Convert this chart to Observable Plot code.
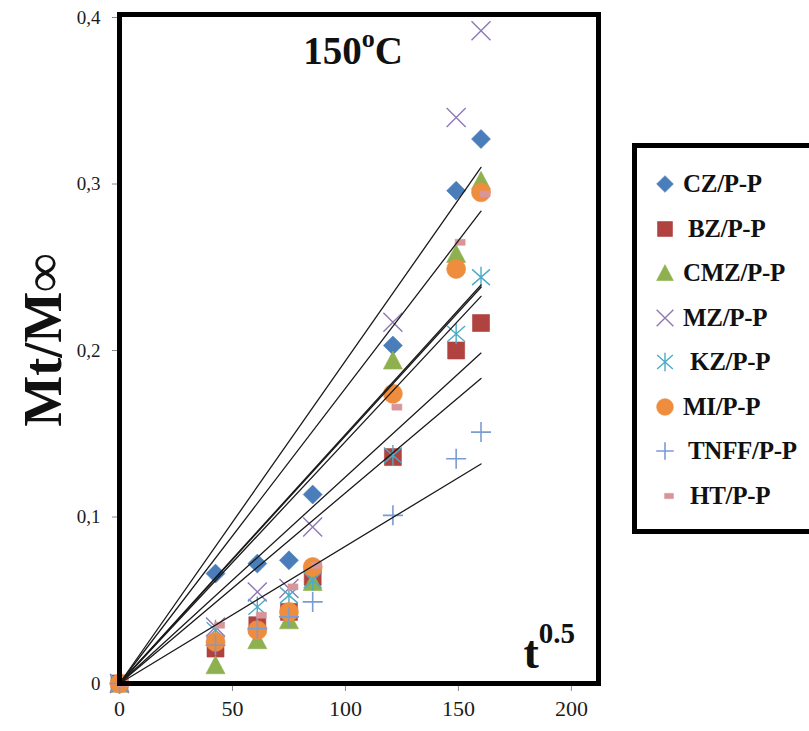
<!DOCTYPE html>
<html><head><meta charset="utf-8">
<script src="https://cdn.jsdelivr.net/npm/d3@7"></script>
<script src="https://cdn.jsdelivr.net/npm/@observablehq/plot@0.6"></script>
<style>
body{margin:0;background:#fff;}
#wrap{position:relative;width:809px;height:731px;overflow:hidden;font-family:"Liberation Serif","Times New Roman",serif;background:#fff;}
#legend{position:absolute;left:632px;top:143px;width:182px;height:391px;border:5px solid #000;box-sizing:border-box;background:#fff;}
.row{position:absolute;left:0;width:170px;height:30px;}
.row svg{position:absolute;left:13px;top:0;overflow:visible}
.row span{position:absolute;top:1px;font-weight:bold;font-size:25px;line-height:28px;white-space:nowrap;color:#111;letter-spacing:-0.3px}
</style></head>
<body><div id="wrap"><div id="chart"></div><div id="legend"></div></div>
<script>
// ---- data ----
const series = ["CZ/P-P","BZ/P-P","CMZ/P-P","MZ/P-P","KZ/P-P","MI/P-P","TNFF/P-P","HT/P-P"];
const tHalf = [0, 42.5, 61, 75, 85.5, 121, 149, 160];
const CZ   = [0, 0.066, 0.072, 0.074, 0.1135, 0.203, 0.296, 0.327];
const BZ   = [0, 0.021, 0.035, 0.043, 0.064, 0.136, 0.200, 0.2165];
const CMZ  = [0, 0.011, 0.026, 0.038, 0.061, 0.194, 0.258, 0.302];
const MZ   = [0, 0.034, 0.055, 0.057, 0.094, 0.217, 0.340, 0.392];
const KZ   = [0, 0.032, 0.046, 0.053, 0.062, 0.137, 0.210, 0.244];
const MI   = [0, 0.025, 0.032, 0.043, 0.070, 0.174, 0.249, 0.295];
const TNFF = [0, 0.023, 0.033, 0.040, 0.049, 0.101, 0.135, 0.151];
const HT   = [0, 0.035, 0.041, 0.058, 0.071, 0.166, 0.265, 0.294];
const xTicks = [0, 50, 100, 150, 200];
const yTicks = [0, 0.1, 0.2, 0.3, 0.4];
const yTitle = "Mt/M∞";
const tempLabel = ["150", "o", "C"];
const xTitle = ["t", "0.5"];

const values = [CZ, BZ, CMZ, MZ, KZ, MI, TNFF, HT];

// ---- marker symbols (Excel-like) ----
const rad = s => Math.sqrt(s / Math.PI);
const SYM = {
  diamond: {draw(c, s) {const r = rad(s); c.moveTo(0, -r); c.lineTo(r, 0); c.lineTo(0, r); c.lineTo(-r, 0); c.closePath();}},
  square: {draw(c, s) {const r = rad(s); c.rect(-r, -r, 2 * r, 2 * r);}},
  triangle: {draw(c, s) {const r = rad(s); c.moveTo(0, -r); c.lineTo(r, r * 0.9); c.lineTo(-r, r * 0.9); c.closePath();}},
  circle: {draw(c, s) {const r = rad(s); c.moveTo(r, 0); c.arc(0, 0, r, 0, 2 * Math.PI);}},
  cross: {draw(c, s) {const r = rad(s); c.moveTo(-r, -r); c.lineTo(r, r); c.moveTo(-r, r); c.lineTo(r, -r);}},
  star: {draw(c, s) {const r = rad(s); c.moveTo(-r * 0.85, -r * 0.75); c.lineTo(r * 0.85, r * 0.75); c.moveTo(-r * 0.85, r * 0.75); c.lineTo(r * 0.85, -r * 0.75); c.moveTo(0, -r); c.lineTo(0, r);}},
  plus: {draw(c, s) {const r = rad(s); c.moveTo(-r, 0); c.lineTo(r, 0); c.moveTo(0, -r); c.lineTo(0, r);}},
  dash: {draw(c, s) {const r = rad(s); c.rect(-r, -r * 0.6, 2 * r, 1.2 * r);}}
};
const styles = [
  {symbol: SYM.diamond, r: 9.5, color: "#4A7EBB", filled: true},
  {symbol: SYM.square, r: 8.5, color: "#B0423F", filled: true},
  {symbol: SYM.triangle, r: 9.5, color: "#8FB04F", filled: true},
  {symbol: SYM.cross, r: 9.5, color: "#8F78B5", filled: false, sw: 1.4},
  {symbol: SYM.star, r: 10.5, color: "#4BACC6", filled: false, sw: 1.4},
  {symbol: SYM.circle, r: 9.5, color: "#EF8D3E", filled: true},
  {symbol: SYM.plus, r: 10, color: "#7B9CD3", filled: false, sw: 1.6},
  {symbol: SYM.dash, r: 5, color: "#D9969A", filled: true, dx: 4}
];

const rows = series.flatMap((s, i) => tHalf.map((t, j) => ({series: s, t, v: values[i][j]})));

// least-squares linear trend lines through the origin
const tMax = d3.max(tHalf);
const fits = series.flatMap((s, i) => {
  const slope = d3.sum(tHalf, (t, j) => t * values[i][j]) / d3.sum(tHalf, t => t * t);
  return [{series: s, t: 0, v: 0}, {series: s, t: tMax, v: slope * tMax}];
});

const dotMarks = series.map((s, i) => {
  const st = styles[i];
  return Plot.dot(rows.filter(d => d.series === s), {
    x: "t", y: "v", symbol: st.symbol, r: st.r,
    fill: st.filled ? st.color : "none",
    stroke: st.color, strokeWidth: st.filled ? 0.6 : st.sw,
    dx: st.dx || 0
  });
});

const chart = Plot.plot({
  width: 809, height: 731,
  marginLeft: 119, marginRight: 211, marginTop: 17, marginBottom: 48,
  style: {fontFamily: "'Liberation Serif','Times New Roman',serif", background: "white", color: "#1b1b1b"},
  x: {domain: [0, 212]},
  y: {domain: [0, 0.4]},
  marks: [
    Plot.axisY({ticks: yTicks, tickFormat: d => d === 0 ? "0" : String(+d.toFixed(1)).replace(".", ","),
      tickSize: 7, tickPadding: 12, stroke: "#8a8a8a", fill: "#1b1b1b", fontSize: 19, label: null}),
    Plot.axisX({ticks: xTicks, tickFormat: d => String(d), tickSize: 8, tickPadding: 9,
      stroke: "#8a8a8a", fill: "#1b1b1b", fontSize: 22, label: null}),
    ...dotMarks,
    Plot.line(fits, {x: "t", y: "v", z: "series", stroke: "#1a1a1a", strokeWidth: 1.3}),
    Plot.frame({stroke: "#000", strokeWidth: 5, insetTop: -3})
  ]
});
document.getElementById("chart").appendChild(chart);

// annotations
const sx = chart.scale("x"), sy = chart.scale("y");
const svg = d3.select(chart);
const t150 = svg.append("text")
  .attr("x", sx.apply(81.5)).attr("y", sy.apply(0.372))
  .attr("text-anchor", "start")
  .attr("font-size", 39).attr("font-weight", "bold").attr("fill", "#111")
  .attr("font-family", "'Liberation Serif',serif");
t150.append("tspan").text(tempLabel[0]);
t150.append("tspan").attr("dy", -17).attr("font-size", 26).text(tempLabel[1]);
t150.append("tspan").attr("dy", 17).text(tempLabel[2]);

const tx = svg.append("text")
  .attr("x", sx.apply(179)).attr("y", sy.apply(0.009))
  .attr("text-anchor", "start")
  .attr("font-size", 46).attr("font-weight", "bold").attr("fill", "#111")
  .attr("font-family", "'Liberation Serif',serif");
tx.append("tspan").text(xTitle[0]);
tx.append("tspan").attr("dy", -25).attr("font-size", 29).text(xTitle[1]);

svg.append("text")
  .attr("transform", `translate(61,${sy.apply(0.206)}) rotate(-90)`)
  .attr("text-anchor", "middle")
  .attr("font-size", 54).attr("font-weight", "bold").attr("fill", "#111")
  .attr("font-family", "'Liberation Serif',serif")
  .text(yTitle);

// legend
const legend = document.getElementById("legend");
const rowTop = i => 21 + i * 44.5;
const textLeft = [46, 51, 46, 46, 53, 46, 51, 53];
series.forEach((s, i) => {
  const st = styles[i];
  const row = document.createElement("div");
  row.className = "row";
  row.style.top = rowTop(i) + "px";
  const sc = 0.88;
  const size = Math.PI * (st.r * sc) ** 2;
  const p = d3.symbol(st.symbol, size)();
  row.innerHTML = `<svg width="30" height="30"><path transform="translate(${15 + (st.dx || 0)},15)" d="${p}" fill="${st.filled ? st.color : "none"}" stroke="${st.color}" stroke-width="${st.filled ? 0.6 : st.sw}"/></svg><span style="left:${textLeft[i]}px">${s}</span>`;
  legend.appendChild(row);
});
</script>
</body></html>
